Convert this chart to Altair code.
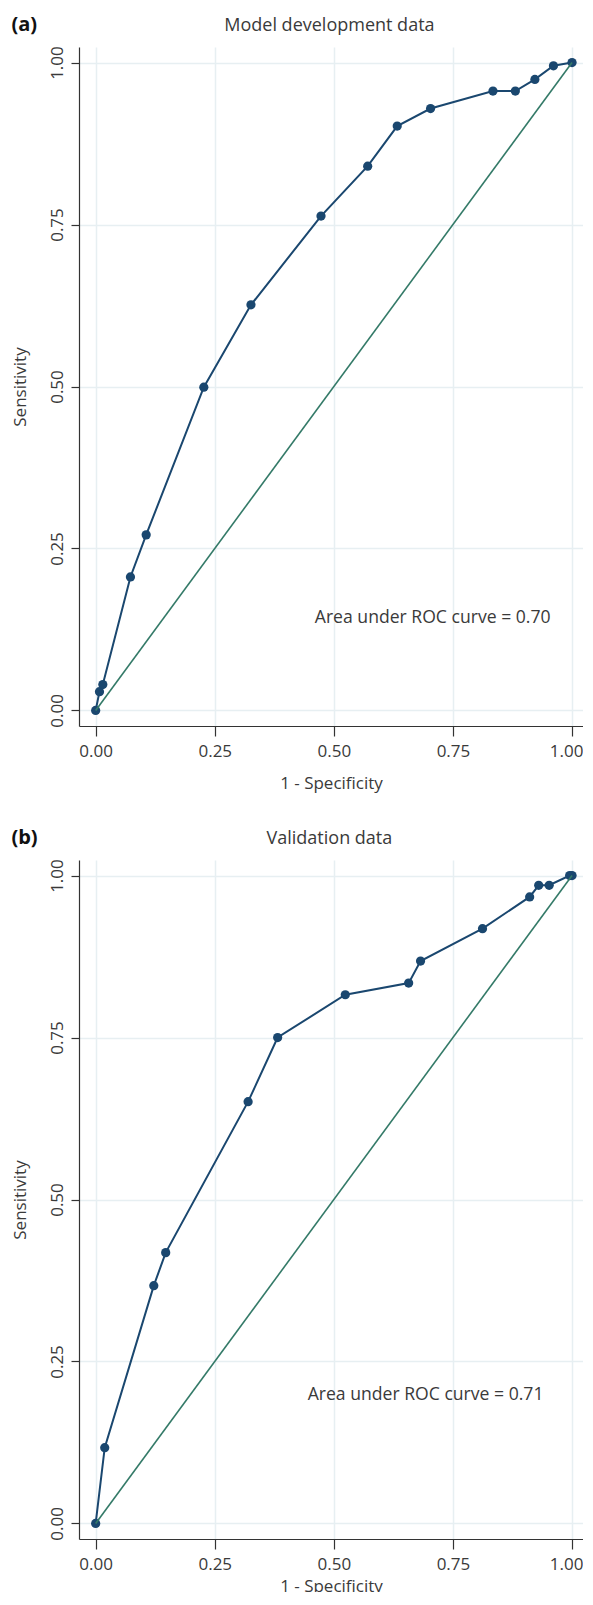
import altair as alt
import pandas as pd

# ---- data ----
dev_fpr = [0.0, 0.008, 0.015, 0.073, 0.106, 0.227, 0.326, 0.473, 0.571, 0.633, 0.703, 0.834, 0.881, 0.922, 0.961, 1.0]
dev_tpr = [0.0, 0.029, 0.040, 0.206, 0.271, 0.499, 0.626, 0.763, 0.840, 0.902, 0.929, 0.956, 0.956, 0.974, 0.995, 1.0]
val_fpr = [0.0, 0.019, 0.122, 0.147, 0.320, 0.382, 0.524, 0.657, 0.682, 0.812, 0.911, 0.930, 0.952, 0.995, 1.0]
val_tpr = [0.0, 0.117, 0.367, 0.418, 0.651, 0.750, 0.816, 0.834, 0.868, 0.918, 0.967, 0.985, 0.985, 1.0, 1.0]
ref_line = [0.0, 1.0]
tick_values = [0.0, 0.25, 0.5, 0.75, 1.0]
panel_labels = ["(a)", "(b)"]
panel_titles = ["Model development data", "Validation data"]
auc_labels = ["Area under ROC curve = 0.70", "Area under ROC curve = 0.71"]

NAVY = "#1a476f"
GREEN = "#347a68"
TEXT = "#3a3a3a"
FONT = "Open Sans"
W, H = 504, 679

xscale = alt.Scale(domain=[-0.035, 1.023], nice=False, zero=False)
yscale = alt.Scale(domain=[-0.024, 1.024], nice=False, zero=False)


def panel(fpr, tpr, label, title, auc, auc_x, auc_y, xtitle_pad):
    df = pd.DataFrame({"fpr": fpr, "tpr": tpr, "i": list(range(len(fpr)))})
    ref = pd.DataFrame({"fpr": ref_line, "tpr": ref_line, "i": [0, 1]})
    x = alt.X("fpr:Q", scale=xscale,
              axis=alt.Axis(values=tick_values, format=".2f", title="1 - Specificity",
                            tickSize=10, labelPadding=7, titlePadding=xtitle_pad,
                            labelOffset=alt.condition("datum.value >= 1", alt.value(-6), alt.value(0))))
    y = alt.Y("tpr:Q", scale=yscale,
              axis=alt.Axis(values=tick_values, format=".2f", title="Sensitivity",
                            tickSize=8, labelAngle=270, labelAlign="center",
                            labelBaseline="alphabetic", labelPadding=9, titlePadding=19))
    curve = alt.Chart(df).mark_line(color=NAVY, strokeWidth=2).encode(x=x, y=y, order="i:Q")
    pts = alt.Chart(df).mark_circle(color=NAVY, size=85, opacity=1).encode(x=x, y=y)
    diag = alt.Chart(ref).mark_line(color=GREEN, strokeWidth=1.6).encode(x=x, y=y, order="i:Q")
    auc_df = pd.DataFrame({"fpr": [auc_x], "tpr": [auc_y], "t": [auc]})
    auc_txt = alt.Chart(auc_df).mark_text(align="left", baseline="middle", font=FONT,
                                          fontSize=17.6, color=TEXT).encode(x=x, y=y, text="t:N")
    lab = alt.Chart(pd.DataFrame({"t": [label]})).mark_text(
        align="left", baseline="middle", font=FONT, fontSize=20, fontWeight="bold", color="#111"
    ).encode(text="t:N", x=alt.value(-67.6), y=alt.value(-21.7))
    ttl = alt.Chart(pd.DataFrame({"t": [title]})).mark_text(
        align="center", baseline="middle", font=FONT, fontSize=18, color=TEXT
    ).encode(text="t:N", x=alt.value(250.4), y=alt.value(-21.0))
    return alt.layer(curve, pts, diag, auc_txt, lab, ttl).properties(width=W, height=H)


a = panel(dev_fpr, dev_tpr, panel_labels[0], panel_titles[0], auc_labels[0], 0.46, 0.142, 16)
b = panel(val_fpr, val_tpr, panel_labels[1], panel_titles[1], auc_labels[1], 0.445, 0.199, 6)

chart = alt.vconcat(a, b, spacing=37).properties(
    padding={"left": 3, "top": 7, "right": 0, "bottom": -2}
).configure_view(stroke=None).configure_axis(
    domainColor="#333333", domainWidth=1.2, tickColor="#333333", tickWidth=1.2,
    gridColor="#e7eff2", gridWidth=1.5,
    labelFont=FONT, labelFontSize=17, labelColor=TEXT,
    titleFont=FONT, titleFontSize=17, titleFontWeight="normal", titleColor=TEXT,
)

chart.save("out.html", embed_options={"renderer": "svg", "actions": False})
